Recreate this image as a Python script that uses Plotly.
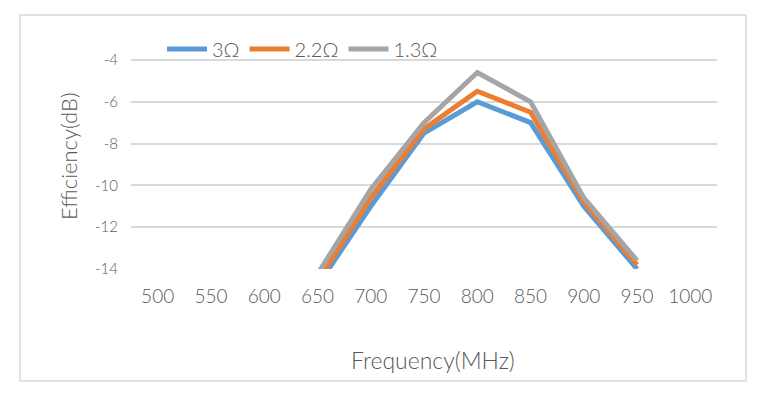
import plotly.graph_objects as go

freq = [500, 550, 600, 650, 700, 750, 800, 850, 900, 950, 1000]
eff_3 = [None, None, None, -14.8, -11.0, -7.5, -6.0, -7.0, -11.0, -14.0, None]
eff_22 = [None, None, None, -14.6, -10.6, -7.3, -5.5, -6.5, -10.8, -13.8, None]
eff_13 = [None, None, None, -14.25, -10.2, -7.0, -4.6, -6.0, -10.6, -13.6, None]
series = [("3Ω", eff_3, "#5B9BD5"), ("2.2Ω", eff_22, "#ED7D31"), ("1.3Ω", eff_13, "#A5A5A5")]
ytick_vals = [-14, -12, -10, -8, -6, -4, -3]
ytick_text = ["-14", "-12", "-10", "-8", "-6", "-4", ""]

FONT = "Lato, sans-serif"
TXT = "#595959"

fig = go.Figure()
for name, vals, col in series:
    fig.add_trace(go.Scatter(
        x=[str(f) for f in freq], y=vals, mode="lines", name=name,
        line=dict(color=col, width=5), connectgaps=False))

W, H = 765, 405
L, R, T, B = 131, 48, 39, 136
pw, ph = W - L - R, H - T - B

def px(x):
    return (x - L) / pw

def py(y):
    return (H - B - y) / ph

fig.update_layout(
    width=W, height=H,
    margin=dict(l=L, r=R, t=T, b=B),
    paper_bgcolor="white", plot_bgcolor="white",
    font=dict(family=FONT, color=TXT, size=14, weight=300),
    showlegend=True,
    legend=dict(orientation="h", x=px(162), y=py(49), xanchor="left", yanchor="middle",
                bgcolor="rgba(0,0,0,0)", font=dict(size=20, color=TXT, weight=300),
                itemwidth=40, tracegroupgap=0),
    xaxis=dict(type="category", range=[-0.5, 10.5], showgrid=False, zeroline=False,
               showline=False, ticks="", tickfont=dict(size=19, color=TXT, weight=300),
               ticklabelstandoff=14),
    yaxis=dict(range=[-14, -3], tickvals=ytick_vals, ticktext=ytick_text,
               showgrid=True, gridcolor="#D9D9D9", gridwidth=1.5, zeroline=False,
               showline=False, ticks="", tickfont=dict(size=15, color=TXT, weight=300),
               ticklabelstandoff=12),
    shapes=[
        dict(type="rect", xref="paper", yref="paper", x0=px(20), x1=px(746), y0=py(381), y1=py(15),
             line=dict(color="#D9D9D9", width=1.5), fillcolor="rgba(0,0,0,0)", layer="below"),
    ],
    annotations=[
        dict(text="Efficiency(dB)", xref="paper", yref="paper", x=px(68), y=py(156),
             xanchor="center", yanchor="middle", showarrow=False,
             textangle=-90, font=dict(size=22, color=TXT, weight=300)),
        dict(text="Frequency(MHz)", xref="paper", yref="paper", x=px(433), y=py(360),
             xanchor="center", yanchor="middle", showarrow=False,
             font=dict(size=23, color=TXT, weight=300)),
    ],
)

fig.write_html("out.html", config={"displayModeBar": False},
               post_script="document.body.style.margin='0';document.body.style.overflow='hidden';")
